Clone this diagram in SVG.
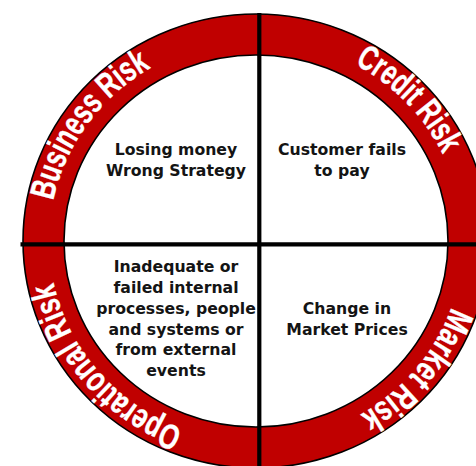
<svg xmlns="http://www.w3.org/2000/svg" xmlns:xlink="http://www.w3.org/1999/xlink" width="476" height="466" viewBox="0 0 476 466">
<style>
.ring-label{font-family:"Liberation Sans Narrow","Liberation Sans",Arial,sans-serif;font-weight:bold;font-size:35px;fill:#ffffff;stroke:#ffffff;stroke-width:0.4;text-anchor:middle}
.desc{font-family:"DejaVu Sans",Verdana,sans-serif;font-weight:bold;font-size:15.7px;fill:#141414;text-anchor:middle}
.divider{stroke:#000;stroke-width:4.2;fill:none}
</style>
<defs>
<path id="pBusiness" d="M49.7,257.5 A207,201 0 0 1 203.5,46.6"/>
<path id="pCredit" d="M280.2,41.4 A207,201 0 0 1 462.7,229.4"/>
<path id="pMarket" d="M463,244 A207,201 0 0 1 288.9,439.4"/>
<path id="pOperational" d="M221.8,439.2 A207,201 0 0 1 49,242.8"/>
</defs>
<rect width="476" height="466" fill="#ffffff"/>
<g id="ring">
<ellipse cx="256" cy="241" rx="233" ry="227" fill="#c00000" stroke="#000" stroke-width="1.6"/>
<ellipse cx="256" cy="241" rx="192" ry="186" fill="#ffffff" stroke="#000" stroke-width="1.6"/>
</g>
<g id="dividers">
<line class="divider" x1="259.3" y1="13" x2="259.3" y2="466"/>
<line class="divider" x1="20.5" y1="244.4" x2="476" y2="244.4"/>
</g>
<g id="business-risk">
<text class="ring-label"><textPath xlink:href="#pBusiness" href="#pBusiness" startOffset="50%" textLength="170" lengthAdjust="spacingAndGlyphs">Business Risk</textPath></text>
<text class="desc"><tspan x="176" y="155">Losing money</tspan><tspan x="176" y="176">Wrong Strategy</tspan></text>
</g>
<g id="credit-risk">
<text class="ring-label"><textPath xlink:href="#pCredit" href="#pCredit" startOffset="50%" textLength="128" lengthAdjust="spacingAndGlyphs">Credit Risk</textPath></text>
<text class="desc"><tspan x="342" y="155">Customer fails</tspan><tspan x="342" y="176">to pay</tspan></text>
</g>
<g id="market-risk">
<text class="ring-label"><textPath xlink:href="#pMarket" href="#pMarket" startOffset="48%" textLength="144" lengthAdjust="spacingAndGlyphs">Market Risk</textPath></text>
<text class="desc"><tspan x="347" y="314">Change in</tspan><tspan x="347" y="334.5">Market Prices</tspan></text>
</g>
<g id="operational-risk">
<text class="ring-label"><textPath xlink:href="#pOperational" href="#pOperational" startOffset="50%" textLength="204" lengthAdjust="spacingAndGlyphs">Operational Risk</textPath></text>
<text class="desc"><tspan x="176" y="272.3">Inadequate or</tspan><tspan x="176" y="293.3">failed internal</tspan><tspan x="176" y="314.3">processes, people</tspan><tspan x="176" y="334.5">and systems or</tspan><tspan x="176" y="355.3">from external</tspan><tspan x="176" y="375.5">events</tspan></text>
</g>
</svg>
